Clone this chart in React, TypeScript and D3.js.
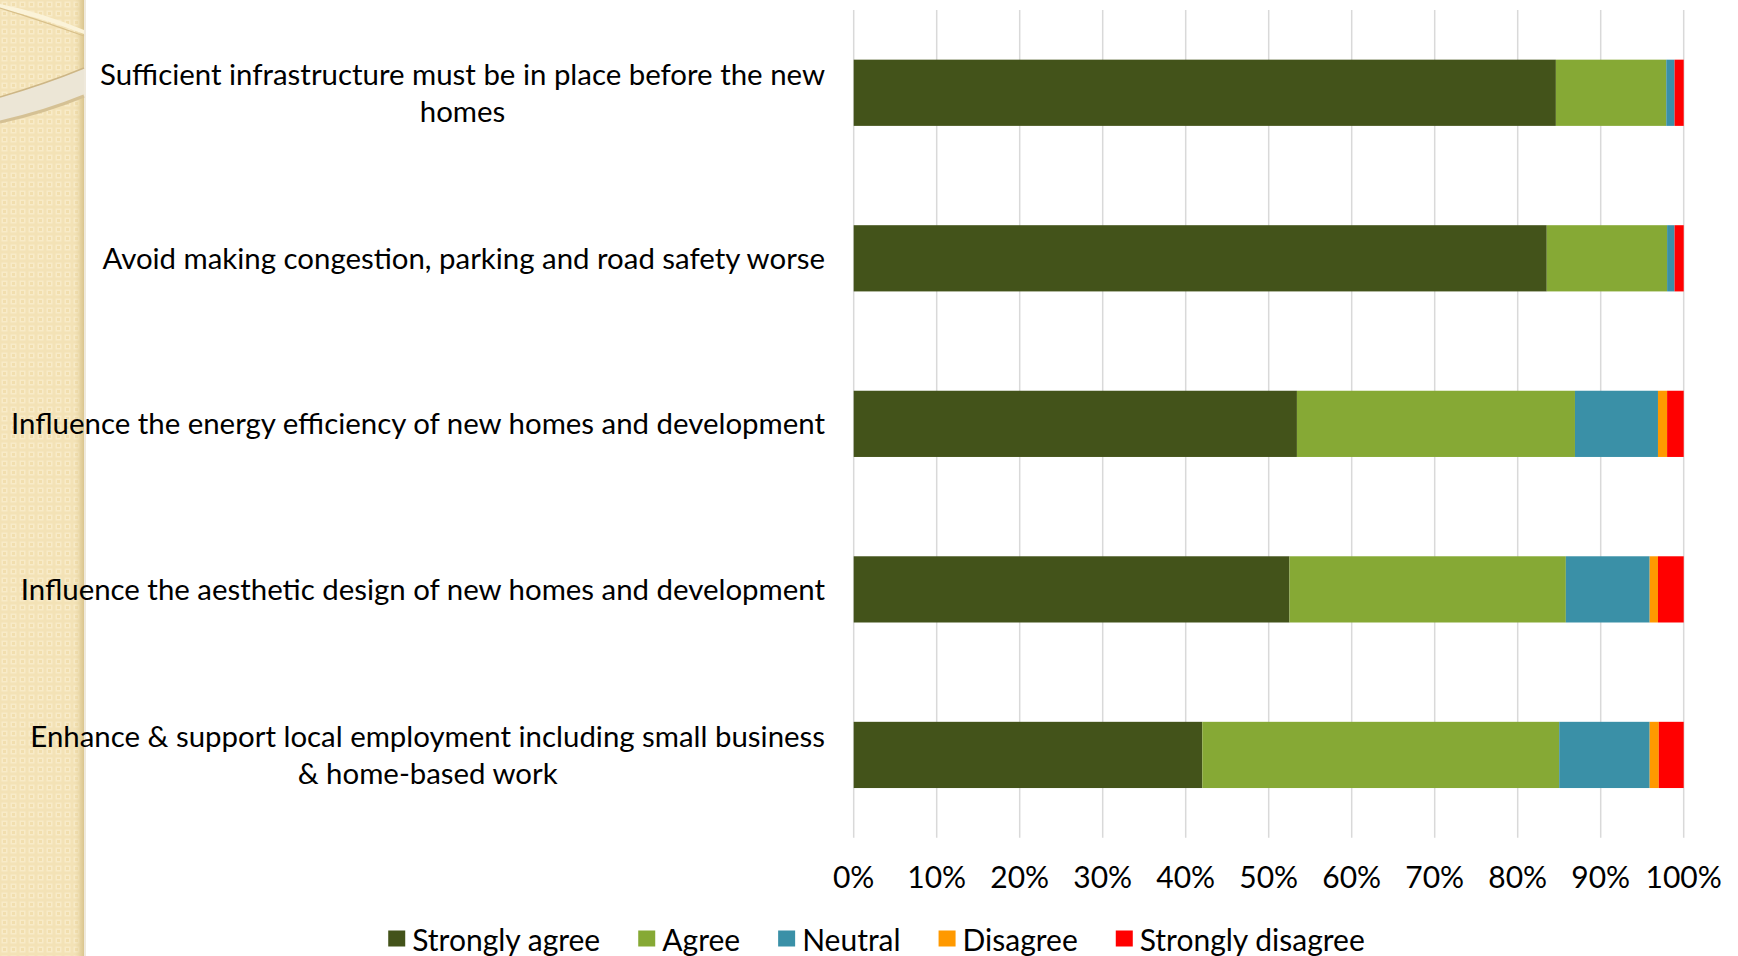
import React, { useEffect, useRef } from "react";
import * as d3 from "d3";

const categories = [
  "Sufficient infrastructure must be in place before the new\nhomes",
  "Avoid making congestion, parking and road safety worse",
  "Influence the energy efficiency of new homes and development",
  "Influence the aesthetic design of new homes and development",
  "Enhance & support local employment including small business\n& home-based work",
];
const seriesNames = ["Strongly agree", "Agree", "Neutral", "Disagree", "Strongly disagree"];
const stronglyAgree = [84.6, 83.5, 53.4, 52.5, 42.0];
const agree = [13.3, 14.5, 33.5, 33.3, 43.0];
const neutral = [1.0, 0.9, 10.0, 10.1, 10.9];
const disagree = [0.0, 0.0, 1.1, 1.0, 1.1];
const stronglyDisagree = [1.1, 1.1, 2.0, 3.1, 3.0];
const tickValues = [0, 0.1, 0.2, 0.3, 0.4, 0.5, 0.6, 0.7, 0.8, 0.9, 1.0];
const colors = ["#43531a", "#86a935", "#3a90a7", "#ff9900", "#ff0000"];

const W = 1738;
const H = 956;
const FONT = "Lato, 'Open Sans', sans-serif";

export default function App() {
  const ref = useRef<SVGSVGElement>(null);

  useEffect(() => {
    const svg = d3.select(ref.current);
    svg.selectAll("*").remove();

    const x = d3.scaleLinear().domain([0, 1]).range([853.7, 1683.7]);
    const y = d3.scaleBand<string>().domain(categories).range([10, 837.7]).paddingInner(0.6).paddingOuter(0.3);

    // Decorative left strip
    const defs = svg.append("defs");
    const pat = defs.append("pattern").attr("id", "chk").attr("width", 9).attr("height", 9).attr("patternUnits", "userSpaceOnUse");
    pat.append("rect").attr("width", 9).attr("height", 9).attr("fill", "#f3e2b6");
    pat.append("rect").attr("x", 1.5).attr("y", 1.5).attr("width", 6).attr("height", 6).attr("fill", "#f8ebc8");
    pat.append("rect").attr("x", 3).attr("y", 3).attr("width", 3).attr("height", 3).attr("fill", "#f1deae");
    const edge = defs.append("linearGradient").attr("id", "edge").attr("x1", 0).attr("x2", 1);
    edge.append("stop").attr("offset", 0).attr("stop-color", "#e9d6a3").attr("stop-opacity", 0);
    edge.append("stop").attr("offset", 1).attr("stop-color", "#d9c48d").attr("stop-opacity", 1);

    svg.append("rect").attr("x", 0).attr("y", 0).attr("width", 84).attr("height", H).attr("fill", "url(#chk)");
    svg.append("rect").attr("x", 74).attr("y", 0).attr("width", 10).attr("height", H).attr("fill", "url(#edge)");
    svg.append("rect").attr("x", 84).attr("y", 0).attr("width", 2).attr("height", H).attr("fill", "#efe9dc");
    // arcs
    svg.append("path").attr("d", "M0,4 Q40,12 84,30 L84,34 Q40,17 0,9 Z").attr("fill", "#fbf3d9");
    svg.append("path").attr("d", "M0,8 Q40,20 84,36").attr("fill", "none").attr("stroke", "#d8c08a").attr("stroke-width", 1.2);
    svg.append("path").attr("d", "M0,97 Q45,84 84,68 L84,96 Q45,112 0,122 Z").attr("fill", "#ece6d6");
    svg.append("path").attr("d", "M0,97 Q45,84 84,68").attr("fill", "none").attr("stroke", "#cdb685").attr("stroke-width", 1.5);
    svg.append("path").attr("d", "M0,122 Q45,112 84,96").attr("fill", "none").attr("stroke", "#d5c194").attr("stroke-width", 3);

    // gridlines
    svg.append("g").selectAll("line").data(tickValues).join("line")
      .attr("x1", (d) => x(d)).attr("x2", (d) => x(d))
      .attr("y1", 10).attr("y2", 837.7)
      .attr("stroke", "#d9d9d9").attr("stroke-width", 1.5);

    // stacked bars
    const rows = categories.map((c, i) => ({
      cat: c,
      "Strongly agree": stronglyAgree[i] / 100,
      Agree: agree[i] / 100,
      Neutral: neutral[i] / 100,
      Disagree: disagree[i] / 100,
      "Strongly disagree": stronglyDisagree[i] / 100,
    }));
    const stack = d3.stack<any>().keys(seriesNames);
    const stacked = stack(rows);
    svg.append("g").selectAll("g").data(stacked).join("g")
      .attr("fill", (_d, i) => colors[i])
      .selectAll("rect").data((d) => d).join("rect")
      .attr("x", (d) => x(d[0]))
      .attr("width", (d) => Math.max(0, x(d[1]) - x(d[0])))
      .attr("y", (d) => y(d.data.cat)!)
      .attr("height", y.bandwidth());

    // category labels
    const fs = 29.4;
    const lh = 37;
    const labG = svg.append("g").attr("font-family", FONT).attr("font-size", fs).attr("fill", "#000");
    categories.forEach((c) => {
      const lines = c.split("\n");
      const cy = y(c)! + y.bandwidth() / 2;
      const tmp = lines.map((l) => {
        const t = labG.append("text").text(l);
        const w = (t.node() as SVGTextElement).getComputedTextLength();
        t.remove();
        return w;
      });
      const maxW = Math.max(...tmp);
      const cx = 825 - maxW / 2;
      lines.forEach((l, k) => {
        labG.append("text")
          .attr("x", cx)
          .attr("y", cy - ((lines.length - 1) * lh) / 2 + k * lh)
          .attr("dy", "0.35em")
          .attr("text-anchor", "middle")
          .text(l);
      });
    });

    // x tick labels
    svg.append("g").attr("font-family", FONT).attr("font-size", 30)
      .selectAll("text").data(tickValues).join("text")
      .attr("x", (d) => x(d)).attr("y", 888)
      .attr("text-anchor", "middle")
      .text((d) => d3.format(".0%")(d));

    // legend
    const legG = svg.append("g").attr("font-family", FONT).attr("font-size", 30);
    const widths = seriesNames.map((n) => {
      const t = legG.append("text").text(n);
      const w = (t.node() as SVGTextElement).getComputedTextLength();
      t.remove();
      return w;
    });
    const sq = 17, gapSq = 7, gapItem = 38;
    const total = widths.reduce((a, w) => a + sq + gapSq + w, 0) + gapItem * (seriesNames.length - 1);
    let cur = 876.5 - total / 2;
    seriesNames.forEach((n, i) => {
      legG.append("rect").attr("x", cur).attr("y", 930.5).attr("width", sq).attr("height", 16).attr("fill", colors[i]);
      legG.append("text").attr("x", cur + sq + gapSq).attr("y", 951).text(n);
      cur += sq + gapSq + widths[i] + gapItem;
    });
  }, []);

  return (
    <svg
      ref={ref}
      width={W}
      height={H}
      style={{ position: "absolute", left: 0, top: 0, background: "#fff" }}
    />
  );
}
